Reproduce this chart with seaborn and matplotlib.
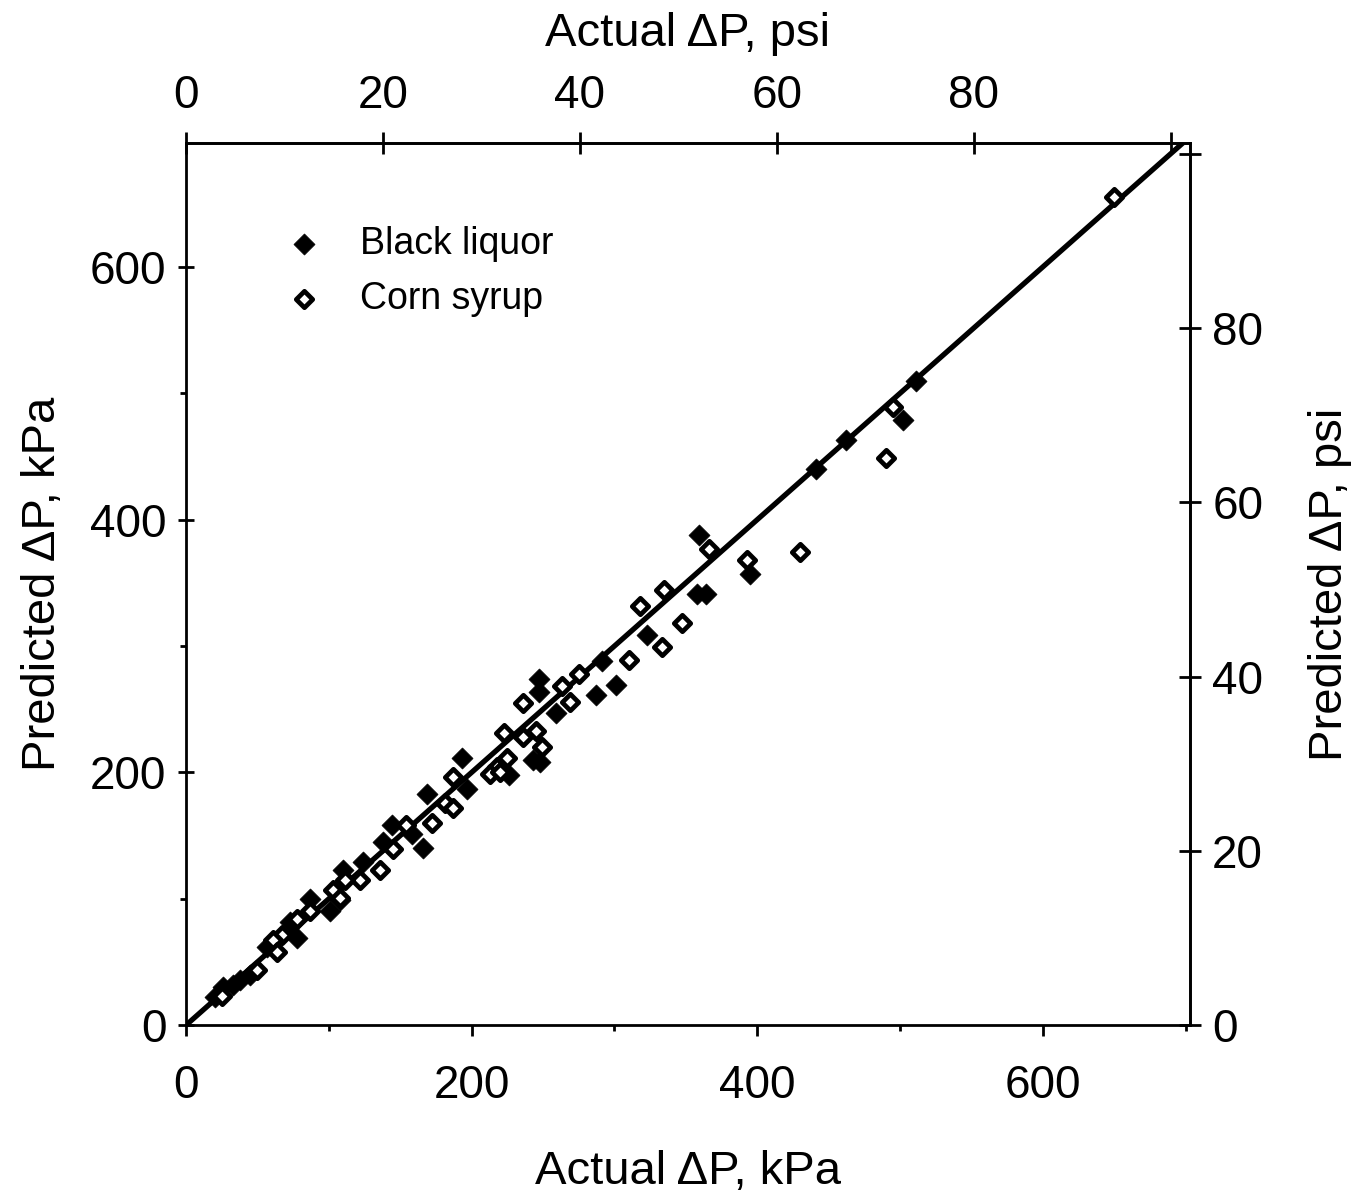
import numpy as np
import pandas as pd
import matplotlib
matplotlib.use('Agg')
import matplotlib.pyplot as plt
import seaborn as sns
from matplotlib.ticker import MultipleLocator

# values (kPa)
black_x = [511, 502, 462, 441, 395, 359, 358, 364, 323, 291, 301, 287, 247, 247, 259, 243, 248, 226, 193, 197,
           169, 166, 144, 138, 158, 124, 110, 108, 87, 101, 73, 78, 57, 45, 38, 33, 26, 20]
black_y = [510, 479, 463, 440, 357, 388, 341, 341, 309, 288, 269, 261, 274, 264, 247, 210, 208, 198, 211, 187,
           183, 140, 158, 145, 151, 129, 123, 99, 100, 90, 82, 69, 62, 40, 36, 32, 30, 22]

corn_x = [650, 495, 490, 430, 393, 366, 335, 318, 347, 333, 310, 275, 269, 263, 236, 223, 236, 245, 249, 225,
          218, 213, 220, 187, 181, 187, 172, 154, 145, 136, 122, 111, 103, 108, 87, 78, 67, 61, 64, 50, 25]
corn_y = [655, 489, 449, 374, 368, 377, 344, 332, 318, 299, 289, 278, 256, 268, 255, 231, 228, 233, 220, 211,
          204, 199, 200, 196, 176, 172, 160, 158, 139, 123, 115, 115, 107, 101, 90, 84, 71, 67, 58, 44, 23]

parity_kpa = [0, 700]

kpa_ticks = [0, 200, 400, 600]
psi_ticks = [0, 20, 40, 60, 80, 100]
psi_labels = ['0', '20', '40', '60', '80', '']

KPA_PER_PSI = 6.895

black = pd.DataFrame({'actual': black_x, 'predicted': black_y})
corn = pd.DataFrame({'actual': corn_x, 'predicted': corn_y})

sns.set_style('ticks')
plt.rcParams['font.family'] = ['Liberation Sans', 'DejaVu Sans']
plt.rcParams['text.color'] = 'black'
plt.rcParams['axes.labelcolor'] = 'black'
plt.rcParams['xtick.color'] = 'black'
plt.rcParams['ytick.color'] = 'black'

fig = plt.figure(figsize=(13.72, 11.99), dpi=100)
ax = fig.add_axes([0.1356, 0.145, 0.7317, 0.7357])

sns.lineplot(x=parity_kpa, y=parity_kpa, ax=ax, color='black', linewidth=3.8, zorder=2)
sns.scatterplot(data=black, x='actual', y='predicted', ax=ax, marker='D', s=115,
                color='black', edgecolor='black', linewidth=0.5, label='Black liquor', zorder=3)
sns.scatterplot(data=corn, x='actual', y='predicted', ax=ax, marker='D', s=70,
                color='white', edgecolor='black', linewidth=3.4, label='Corn syrup', zorder=3)

ax.set_xlim(0, 703)
ax.set_ylim(0, 698)

for sp in ax.spines.values():
    sp.set_visible(True)
    sp.set_linewidth(2)
    sp.set_color('black')

ax.set_xticks(kpa_ticks)
ax.set_yticks(kpa_ticks)
ax.xaxis.set_minor_locator(MultipleLocator(100))
ax.yaxis.set_minor_locator(MultipleLocator(100))
ax.tick_params(axis='x', which='major', direction='out', length=8, width=2, labelsize=33, pad=20)
ax.tick_params(axis='y', which='major', direction='inout', length=12, width=2, labelsize=33, pad=8)
ax.tick_params(which='minor', direction='out', length=4, width=2)

ax.set_xlabel('Actual ΔP, kPa', fontsize=34, labelpad=30)
ax.set_ylabel('Predicted ΔP, kPa', fontsize=34, labelpad=18)

top = ax.secondary_xaxis('top', functions=(lambda v: v / KPA_PER_PSI, lambda v: v * KPA_PER_PSI))
top.set_xticks(psi_ticks)
top.set_xticklabels(psi_labels)
top.tick_params(direction='inout', length=16, width=2, labelsize=33, pad=10)
top.set_xlabel('Actual ΔP, psi', fontsize=34, labelpad=20)
top.spines['top'].set_linewidth(2)

right = ax.secondary_yaxis('right', functions=(lambda v: v / KPA_PER_PSI, lambda v: v * KPA_PER_PSI))
right.set_yticks(psi_ticks)
right.set_yticklabels(psi_labels)
right.tick_params(direction='inout', length=16, width=2, labelsize=33, pad=8)
right.set_ylabel('Predicted ΔP, psi', fontsize=34, labelpad=32)
right.spines['right'].set_linewidth(2)

ax.legend(loc='upper left', bbox_to_anchor=(0.08, 0.927), frameon=False, fontsize=27,
          handlelength=1.0, handletextpad=1.0, labelspacing=0.5, borderpad=0, markerscale=1.0)

fig.savefig('out.png', dpi=100)
